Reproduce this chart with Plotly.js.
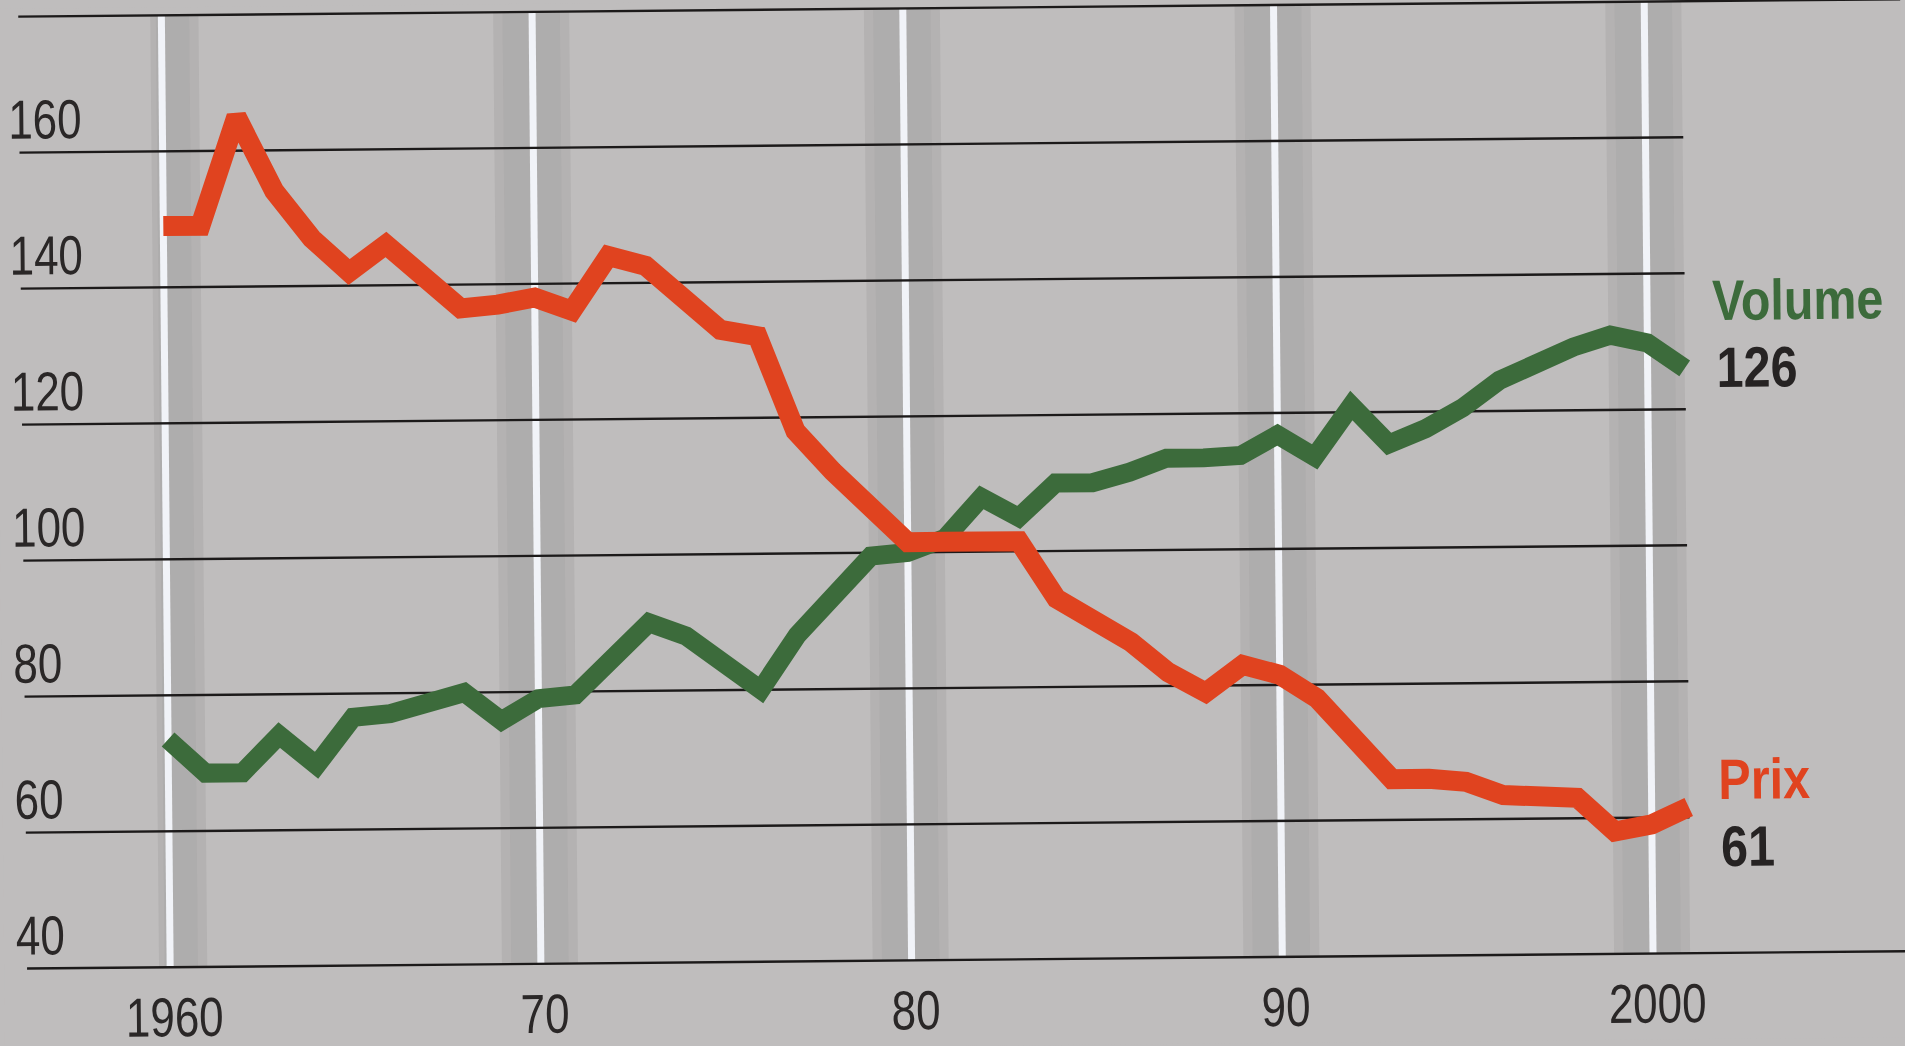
<!DOCTYPE html>
<html>
<head>
<meta charset="utf-8">
<script src="https://cdn.plot.ly/plotly-3.0.1.min.js"></script>
<style>
  html, body { margin: 0; padding: 0; width: 1905px; height: 1046px; overflow: hidden; background: #bfbdbd; }
  #chart { width: 1905px; height: 1046px; transform: rotate(-0.53deg); transform-origin: 50% 50%; }
</style>
</head>
<body>
<div id="chart"></div>
<script>
// ---- data ----
const years = [1960,1961,1962,1963,1964,1965,1966,1967,1968,1969,
               1970,1971,1972,1973,1974,1975,1976,1977,1978,1979,
               1980,1981,1982,1983,1984,1985,1986,1987,1988,1989,
               1990,1991,1992,1993,1994,1995,1996,1997,1998,1999,
               2000,2001];
const prix = [149,149,165,154,147,142,146,141,136.5,137,
              138,136,144,142.5,138,133,132,118,112,106.5,
              101.5,101.5,101.5,101.5,93,90,86.5,82,79,83,
              81.5,78,72,66,66,65.5,63.5,63,63,58,
              59,61.5];
const volume = [73.5,68.5,68.5,74,69.5,76.5,77,78.5,80,75.8,
                79,79.5,84.5,90,88,84,80,88,93.5,99.5,
                100,102,108,105,110,110,111.5,113.5,113.5,113.8,
                116.8,113.5,121,115.3,117.5,120.5,124.5,127,129.3,131,
                129.8,126];
const seriesNames = ['Volume', 'Prix'];
const endValues = ['126', '61'];
const xTickVals = [1960, 1970, 1980, 1990, 2000];
const xTickText = ['1960', '70', '80', '90', '2000'];
const yGridVals = [40, 60, 80, 100, 120, 140, 160, 180];
const yTickVals = [40, 60, 80, 100, 120, 140, 160];
const yTickText = ['40', '60', '80', '100', '120', '140', '160'];

// ---- styles ----
const BG = '#bfbdbd';
const GREEN = '#3c6b3b';
const RED = '#e0431f';
const TXT = '#262323';
const FAM = '"Liberation Sans", Arial, Helvetica, sans-serif';
const tickFont = { family: FAM, size: 55, color: '#2a2727' };
const labelFont = (c) => ({ family: FAM, size: 57, color: c });
const TICK_SX = 0.8;    // condensed look of the printed labels
const LABEL_SX = 0.85;

const xRange = [1955.52, 2006.905];
const yRange = [27.35, 181.18];
const gridStart = 1956.14;
const gridEndShort = 2001.02;

const shapes = [];
// shaded bands around decade lines
xTickVals.forEach((d, i) => {
  shapes.push({ type: 'rect', layer: 'below', xref: 'x', yref: 'y',
    x0: i === 0 ? d - 0.3 : d - 1.05, x1: d + 1.0, y0: 40, y1: 180,
    fillcolor: 'rgba(50,45,45,0.08)', line: { width: 0 } });
  shapes.push({ type: 'rect', layer: 'below', xref: 'x', yref: 'y',
    x0: i === 0 ? d - 0.15 : d - 0.8, x1: d + 0.75, y0: 40, y1: 180,
    fillcolor: 'rgba(50,45,45,0.04)', line: { width: 0 } });
});
// white decade lines
xTickVals.forEach(d => {
  shapes.push({ type: 'line', layer: 'below', xref: 'x', yref: 'y',
    x0: d, x1: d, y0: 40, y1: 180, line: { color: '#f1f3f8', width: 7 } });
});
// horizontal gridlines
yGridVals.forEach(v => {
  const full = (v === 40 || v === 180);
  shapes.push({ type: 'line', layer: 'below', xref: 'x', yref: 'y',
    x0: gridStart, x1: full ? xRange[1] + 1 : gridEndShort, y0: v, y1: v,
    line: { color: '#1c1a1a', width: 2.4 } });
});

const annotations = [];
const annScale = [];
yTickVals.forEach((v, i) => {
  annotations.push({ xref: 'paper', yref: 'y', x: 10 / 1905, y: v + 4.85,
    xanchor: 'left', yanchor: 'middle', text: yTickText[i], showarrow: false, font: tickFont });
  annScale.push(TICK_SX);
});
xTickVals.forEach((d, i) => {
  annotations.push({ xref: 'x', yref: 'y', x: d + 0.1, y: 32.6,
    xanchor: 'center', yanchor: 'middle', text: xTickText[i], showarrow: false, font: tickFont });
  annScale.push(TICK_SX);
});
// end labels
const endLab = [
  { x: 2001.7, y: 136.0, t: '<b>' + seriesNames[0] + '</b>', c: GREEN },
  { x: 2001.8, y: 126.2, t: '<b>' + endValues[0] + '</b>', c: TXT },
  { x: 2001.75, y: 65.6, t: '<b>' + seriesNames[1] + '</b>', c: RED },
  { x: 2001.8, y: 55.8, t: '<b>' + endValues[1] + '</b>', c: TXT }
];
endLab.forEach(e => {
  annotations.push({ xref: 'x', yref: 'y', x: e.x, y: e.y, xanchor: 'left', yanchor: 'middle',
    text: e.t, showarrow: false, font: labelFont(e.c) });
  annScale.push(LABEL_SX);
});

const traces = [
  { x: years, y: volume, type: 'scatter', mode: 'lines', name: seriesNames[0],
    line: { color: GREEN, width: 19, shape: 'linear' }, hoverinfo: 'skip' },
  { x: years, y: prix, type: 'scatter', mode: 'lines', name: seriesNames[1],
    line: { color: RED, width: 20, shape: 'linear' }, hoverinfo: 'skip' }
];

const layout = {
  width: 1905, height: 1046,
  margin: { l: 0, r: 0, t: 0, b: 0, pad: 0 },
  paper_bgcolor: BG, plot_bgcolor: BG,
  showlegend: false,
  xaxis: { range: xRange, visible: false, showgrid: false, zeroline: false, fixedrange: true },
  yaxis: { range: yRange, visible: false, showgrid: false, zeroline: false, fixedrange: true },
  shapes: shapes,
  annotations: annotations
};

Plotly.newPlot('chart', traces, layout, { displayModeBar: false, staticPlot: true }).then(gd => {
  document.querySelectorAll('#chart g.annotation').forEach(g => {
    const i = +g.getAttribute('data-index');
    const a = annotations[i];
    const t = g.querySelector('text.annotation-text');
    if (!a || !t) return;
    t.style.transformBox = 'fill-box';
    t.style.transformOrigin = a.xanchor === 'left' ? 'left center' : 'center center';
    t.style.transform = 'scaleX(' + annScale[i] + ')';
  });
});
</script>
</body>
</html>
